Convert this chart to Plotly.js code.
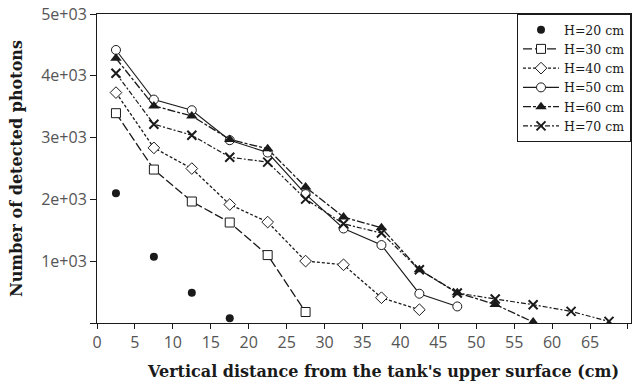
<!DOCTYPE html>
<html>
<head>
<meta charset="utf-8">
<script src="https://cdn.plot.ly/plotly-3.0.1.min.js"></script>
<style>html,body{margin:0;padding:0;background:#fff;}#chart{width:633px;height:387px;}</style>
</head>
<body>
<div id="chart"></div>
<script>
// Distance from the tank's upper surface (cm)
const xH20 = [2.5, 7.5, 12.5, 17.5];
const yH20 = [2100, 1070, 490, 75];

const xH30 = [2.5, 7.5, 12.5, 17.5, 22.5, 27.5];
const yH30 = [3395, 2483, 1966, 1626, 1099, 178];

const xH40 = [2.5, 7.5, 12.5, 17.5, 22.5, 27.5, 32.5, 37.5, 42.5];
const yH40 = [3728, 2834, 2499, 1917, 1633, 1002, 942, 409, 215];

const xH50 = [2.5, 7.5, 12.5, 17.5, 22.5, 27.5, 32.5, 37.5, 42.5, 47.5];
const yH50 = [4418, 3615, 3443, 2958, 2758, 2085, 1529, 1261, 474, 268];

const xH60 = [2.5, 7.5, 12.5, 17.5, 22.5, 27.5, 32.5, 37.5, 42.5, 47.5, 52.5, 57.5];
const yH60 = [4284, 3513, 3351, 2970, 2818, 2200, 1714, 1540, 862, 490, 300, 15];

const xH70 = [2.5, 7.5, 12.5, 17.5, 22.5, 27.5, 32.5, 37.5, 42.5, 47.5, 52.5, 57.5, 62.5, 67.5];
const yH70 = [4041, 3217, 3039, 2683, 2603, 2005, 1605, 1455, 862, 485, 388, 296, 188, 26];

const seriesNames = ['H=20 cm', 'H=30 cm', 'H=40 cm', 'H=50 cm', 'H=60 cm', 'H=70 cm'];
const yTickVals = [0, 1000, 2000, 3000, 4000, 5000];
const yTickText = ['', '1e+03', '2e+03', '3e+03', '4e+03', '5e+03'];
const xTickVals = [0, 5, 10, 15, 20, 25, 30, 35, 40, 45, 50, 55, 60, 65, 70];
const xTitle = "Vertical distance from the tank's upper surface (cm)";
const yTitle = 'Number of detected photons';

const ink = '#1a1a1a';
const serif = 'DejaVu Serif, serif';

const traces = [
  {x: xH20, y: yH20, name: seriesNames[0], mode: 'markers', type: 'scatter',
   marker: {symbol: 'circle', size: 8, color: ink}},
  {x: xH30, y: yH30, name: seriesNames[1], mode: 'lines+markers', type: 'scatter',
   line: {color: ink, width: 1.3, dash: '9px,3px'},
   marker: {symbol: 'square', size: 9, color: '#fff', line: {color: ink, width: 1}}},
  {x: xH40, y: yH40, name: seriesNames[2], mode: 'lines+markers', type: 'scatter',
   line: {color: ink, width: 1.3, dash: '3px,2px'},
   marker: {symbol: 'diamond', size: 9, color: '#fff', line: {color: ink, width: 1}}},
  {x: xH50, y: yH50, name: seriesNames[3], mode: 'lines+markers', type: 'scatter',
   line: {color: ink, width: 1.1},
   marker: {symbol: 'circle', size: 9, color: '#fff', line: {color: ink, width: 1}}},
  {x: xH60, y: yH60, name: seriesNames[4], mode: 'lines+markers', type: 'scatter',
   line: {color: ink, width: 1.3, dash: '8px,2px,3px,2px'},
   marker: {symbol: 'triangle-up', size: 10, color: ink}},
  {x: xH70, y: yH70, name: seriesNames[5], mode: 'lines+markers', type: 'scatter',
   line: {color: ink, width: 1.2, dash: '5px,2px,2px,2px'},
   marker: {symbol: 'x-thin', size: 9, color: ink, line: {color: ink, width: 2}}}
];

const layout = {
  width: 633, height: 387,
  margin: {l: 97, r: 2, t: 14, b: 64},
  paper_bgcolor: '#fff', plot_bgcolor: '#fff',
  showlegend: true,
  legend: {
    x: 1, xanchor: 'right', y: 1, yanchor: 'top',
    bgcolor: '#fff', bordercolor: ink, borderwidth: 1,
    font: {family: serif, size: 12.5, color: ink},
    itemwidth: 36,
    tracegroupgap: 0
  },
  xaxis: {
    range: [0, 70.4], tickvals: xTickVals,
    showline: true, linecolor: ink, linewidth: 1, mirror: true,
    ticks: 'outside', ticklen: 5, tickcolor: ink,
    showgrid: false, zeroline: false,
    tickfont: {family: 'Open Sans, sans-serif', size: 16, color: '#555'}
  },
  yaxis: {
    range: [0, 5000], tickvals: yTickVals, ticktext: yTickText,
    showline: true, linecolor: ink, linewidth: 1, mirror: true,
    ticks: 'outside', ticklen: 6, tickcolor: ink,
    showgrid: false, zeroline: false,
    tickfont: {family: 'Open Sans, sans-serif', size: 16, color: '#555'},
    title: {text: yTitle,
            font: {family: serif, size: 16, color: ink, weight: 'bold'}, standoff: 14}
  },
  annotations: [
    {text: xTitle, xref: 'paper', yref: 'paper', x: 0.535, y: 0,
     xanchor: 'center', yanchor: 'top', yshift: -37, showarrow: false,
     font: {family: serif, size: 16, color: ink, weight: 'bold'}}
  ]
};

Plotly.newPlot('chart', traces, layout, {displayModeBar: false, staticPlot: true});
</script>
</body>
</html>
